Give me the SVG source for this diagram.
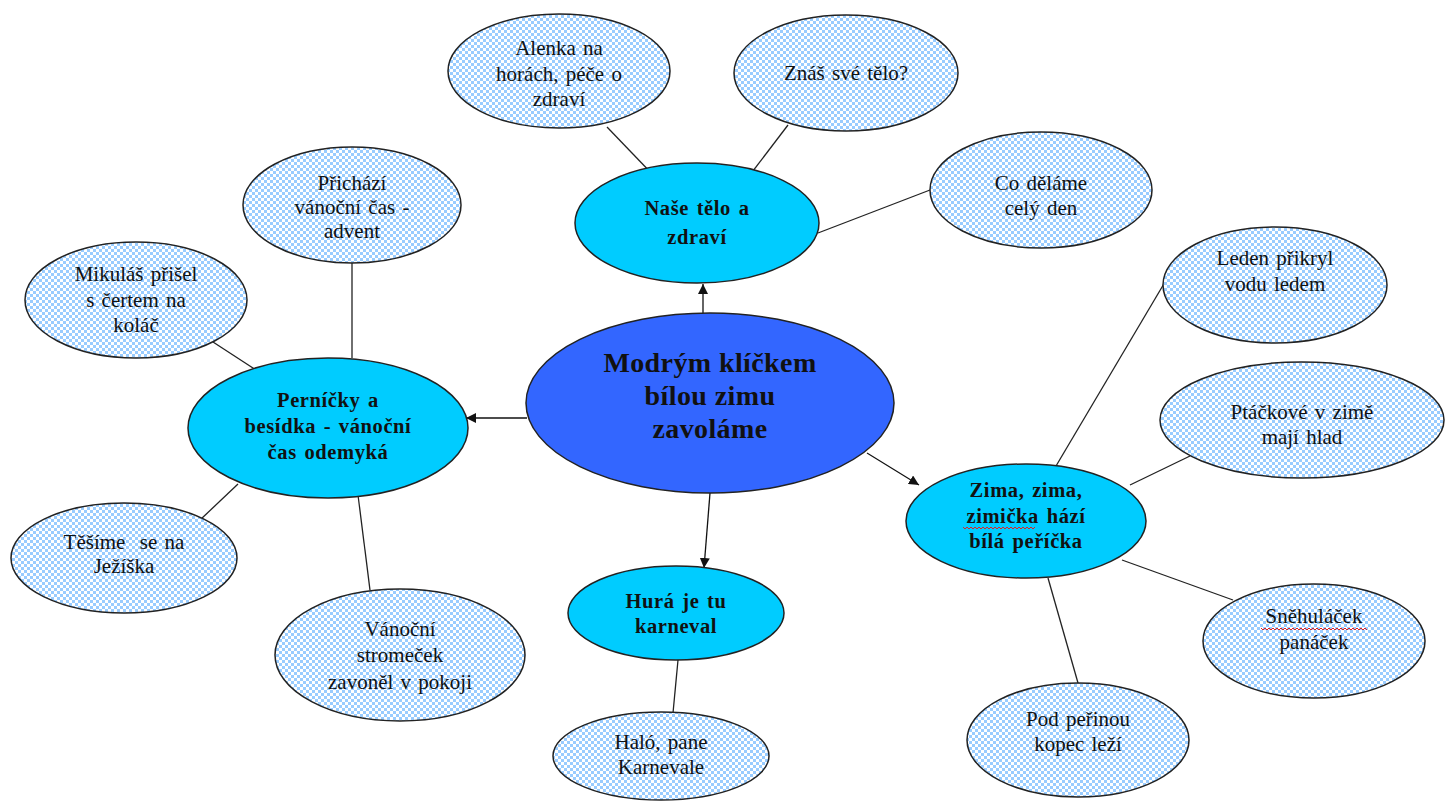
<svg xmlns="http://www.w3.org/2000/svg" width="1445" height="801" viewBox="0 0 1445 801">
<style>
.sub{fill:url(#chk);stroke:#222;stroke-width:1.5}
.mid{fill:#00ccff;stroke:#222;stroke-width:1.5}
.main{fill:#3366ff;stroke:#222;stroke-width:1.5}
.t{font-family:"Liberation Serif","Times New Roman",serif;font-size:21px;fill:#111;text-anchor:middle;word-spacing:2px}
.b{font-family:"Liberation Serif","Times New Roman",serif;font-size:20.5px;font-weight:bold;fill:#111;text-anchor:middle;letter-spacing:0.6px;word-spacing:2px}
.m{font-family:"Liberation Serif","Times New Roman",serif;font-size:28px;font-weight:bold;fill:#111;text-anchor:middle;letter-spacing:0.4px}
.ln{stroke:#222;stroke-width:1.3;fill:none}
.ar{stroke:#111;stroke-width:1.3;fill:none;marker-end:url(#ah)}
.sq{stroke:#e02020;stroke-width:1;fill:none}
</style>
<defs>
<pattern id="chk" width="6" height="6" patternUnits="userSpaceOnUse">
<rect width="6" height="6" fill="#ffffff"/>
<rect width="3" height="3" fill="#99ccff"/>
<rect x="3" y="3" width="3" height="3" fill="#99ccff"/>
</pattern>
<marker id="ah" viewBox="0 0 10 10" refX="10" refY="5" markerWidth="10" markerHeight="10" markerUnits="userSpaceOnUse" orient="auto">
<path d="M0,0 L10,5 L0,10 z" fill="#111"/>
</marker>
</defs>
<rect width="1445" height="801" fill="#ffffff"/>
<g id="connectors">
<line class="ln" x1="607" y1="127" x2="656" y2="178"/>
<line class="ln" x1="788" y1="125" x2="743" y2="184"/>
<line class="ln" x1="930" y1="190" x2="818" y2="233"/>
<line class="ln" x1="352" y1="263" x2="352" y2="358"/>
<line class="ln" x1="213" y1="342" x2="256" y2="370"/>
<line class="ln" x1="200" y1="520" x2="238" y2="484"/>
<line class="ln" x1="370" y1="590" x2="358" y2="495"/>
<line class="ln" x1="673" y1="713" x2="678" y2="660"/>
<line class="ln" x1="1056" y1="466" x2="1165" y2="282"/>
<line class="ln" x1="1130" y1="485" x2="1190" y2="456"/>
<line class="ln" x1="1122" y1="560" x2="1233" y2="600"/>
<line class="ln" x1="1048" y1="578" x2="1078" y2="683"/>
<line class="ar" x1="703" y1="313" x2="703" y2="284"/>
<line class="ar" x1="527" y1="418" x2="466" y2="418"/>
<line class="ar" x1="867" y1="453" x2="919" y2="485"/>
<line class="ar" x1="710" y1="493" x2="704" y2="568"/>
</g>
<g id="n-alenka"><ellipse class="sub" cx="559" cy="71" rx="111" ry="57"/>
<text class="t" x="559" y="55">Alenka na</text><text class="t" x="559" y="81">horách, péče o</text><text class="t" x="559" y="106">zdraví</text></g>
<g id="n-znas"><ellipse class="sub" cx="846" cy="73" rx="112" ry="58"/>
<text class="t" x="846" y="80">Znáš své tělo?</text></g>
<g id="n-co"><ellipse class="sub" cx="1041" cy="190" rx="111" ry="58"/>
<text class="t" x="1041" y="190">Co děláme</text><text class="t" x="1041" y="215">celý den</text></g>
<g id="n-nase"><ellipse class="mid" cx="697" cy="223" rx="122" ry="60"/>
<text class="b" x="697" y="215">Naše tělo a</text><text class="b" x="697" y="244">zdraví</text></g>
<g id="n-prichazi"><ellipse class="sub" cx="352" cy="205" rx="109" ry="58"/>
<text class="t" x="352" y="190">Přichází</text><text class="t" x="352" y="214">vánoční čas -</text><text class="t" x="352" y="238">advent</text></g>
<g id="n-mikulas"><ellipse class="sub" cx="136" cy="300" rx="111" ry="58"/>
<text class="t" x="136" y="281">Mikuláš přišel</text><text class="t" x="136" y="307">s čertem na</text><text class="t" x="136" y="332">koláč</text></g>
<g id="n-pernicky"><ellipse class="mid" cx="328" cy="428" rx="140" ry="70"/>
<text class="b" x="328" y="407">Perníčky a</text><text class="b" x="328" y="433">besídka - vánoční</text><text class="b" x="328" y="459">čas odemyká</text></g>
<g id="n-tesime"><ellipse class="sub" cx="124" cy="558" rx="113" ry="55"/>
<text class="t" x="124" y="549">Těšíme&#160; se na</text><text class="t" x="124" y="573">Ježíška</text></g>
<g id="n-stromecek"><ellipse class="sub" cx="400" cy="655" rx="125" ry="66"/>
<text class="t" x="400" y="636">Vánoční</text><text class="t" x="400" y="662">stromeček</text><text class="t" x="400" y="689">zavoněl v pokoji</text></g>
<g id="n-main"><ellipse class="main" cx="710" cy="403" rx="184" ry="90"/>
<text class="m" x="710" y="372">Modrým klíčkem</text><text class="m" x="710" y="405">bílou zimu</text><text class="m" x="710" y="438">zavoláme</text></g>
<g id="n-hura"><ellipse class="mid" cx="676" cy="613" rx="108" ry="47"/>
<text class="b" x="676" y="608">Hurá je tu</text><text class="b" x="676" y="633">karneval</text></g>
<g id="n-halo"><ellipse class="sub" cx="661" cy="756" rx="108" ry="44"/>
<text class="t" x="661" y="749">Haló, pane</text><text class="t" x="661" y="774">Karnevale</text></g>
<g id="n-zima"><ellipse class="mid" cx="1026" cy="521" rx="120" ry="57"/>
<text class="b" x="1026" y="497">Zima, zima,</text><text class="b" x="1026" y="523">zimička hází</text><text class="b" x="1026" y="548">bílá peříčka</text>
<path class="sq" d="M963,527 l2,2 l2,-2 l2,2 l2,-2 l2,2 l2,-2 l2,2 l2,-2 l2,2 l2,-2 l2,2 l2,-2 l2,2 l2,-2 l2,2 l2,-2 l2,2 l2,-2 l2,2 l2,-2 l2,2 l2,-2 l2,2 l2,-2 l2,2 l2,-2 l2,2 l2,-2 l2,2 l2,-2 l2,2 l2,-2 l2,2 l2,-2 l2,2 l2,-2"/></g>
<g id="n-leden"><ellipse class="sub" cx="1275" cy="285" rx="112" ry="58"/>
<text class="t" x="1275" y="265">Leden přikryl</text><text class="t" x="1275" y="291">vodu ledem</text></g>
<g id="n-ptackove"><ellipse class="sub" cx="1302" cy="420" rx="142" ry="58"/>
<text class="t" x="1302" y="419">Ptáčkové v zimě</text><text class="t" x="1302" y="444">mají hlad</text></g>
<g id="n-snehulacek"><ellipse class="sub" cx="1314" cy="641" rx="111" ry="57"/>
<text class="t" x="1314" y="623">Sněhuláček</text><text class="t" x="1314" y="649">panáček</text>
<path class="sq" d="M1261,628 l2,2 l2,-2 l2,2 l2,-2 l2,2 l2,-2 l2,2 l2,-2 l2,2 l2,-2 l2,2 l2,-2 l2,2 l2,-2 l2,2 l2,-2 l2,2 l2,-2 l2,2 l2,-2 l2,2 l2,-2 l2,2 l2,-2 l2,2 l2,-2 l2,2 l2,-2 l2,2 l2,-2 l2,2 l2,-2 l2,2 l2,-2 l2,2 l2,-2 l2,2 l2,-2 l2,2 l2,-2 l2,2 l2,-2 l2,2 l2,-2 l2,2 l2,-2 l2,2 l2,-2 l2,2 l2,-2 l2,2 l2,-2 l2,2"/></g>
<g id="n-podperinou"><ellipse class="sub" cx="1078" cy="740" rx="111" ry="57"/>
<text class="t" x="1078" y="726">Pod peřinou</text><text class="t" x="1078" y="751">kopec leží</text></g>
</svg>
